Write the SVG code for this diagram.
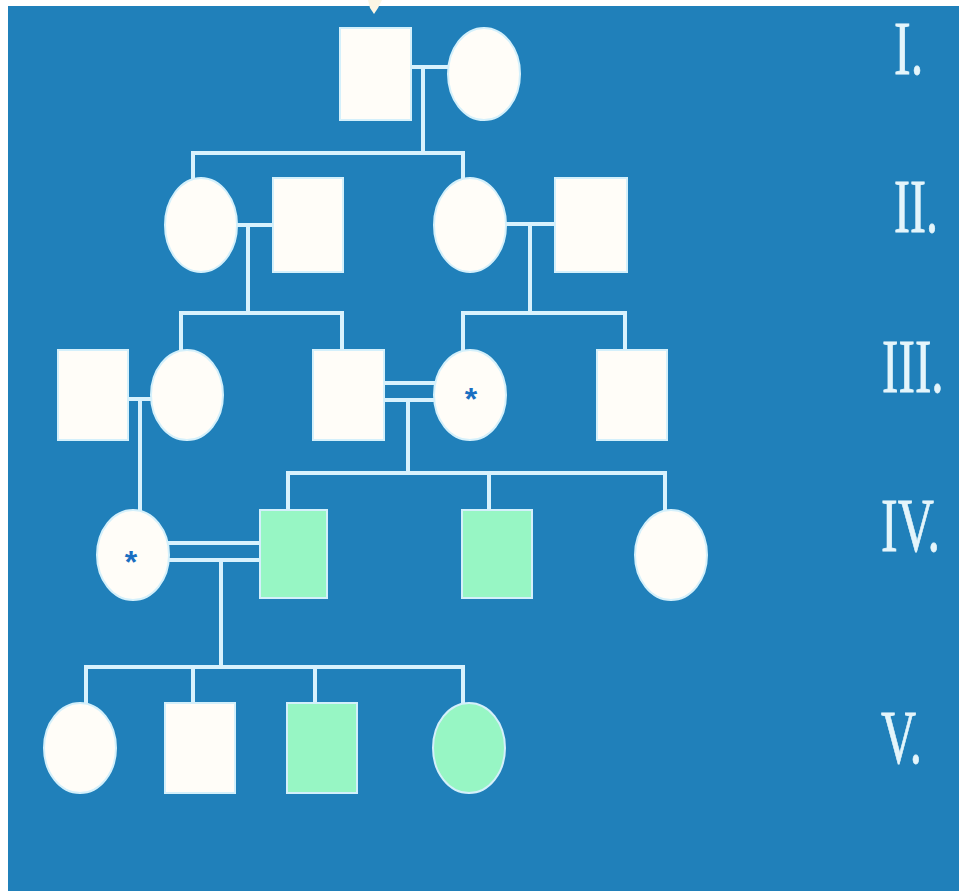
<svg xmlns="http://www.w3.org/2000/svg" width="959" height="891" viewBox="0 0 959 891">
<style>
.bg{fill:#2080ba}
.m{fill:#fffdf8;stroke:#d4f0fb;stroke-width:2}
.a{fill:#97f6c4;stroke:#d4f0fb;stroke-width:2}
.ln{fill:none;stroke:#d8f2fd;stroke-width:4;stroke-linecap:square}
.gen{font-family:"Liberation Serif",serif;font-size:76px;fill:#e4f5fb;stroke:#e4f5fb;stroke-width:0.8}
.st{font-family:"Liberation Sans",sans-serif;font-size:32px;font-weight:bold;fill:#1a6fc2}
</style>
<rect width="959" height="891" fill="#ffffff"/>
<rect class="bg" x="8" y="6" width="951" height="885"/>
<path d="M368,0 L382,0 L378,8 L374,14 L370,8 Z" fill="#fbf6e4"/>
<g id="connectors">
<path class="ln" d="M411,67 H448 M423,67 V153 M193,153 H463 M193,153 V177 M463,153 V177"/>
<path class="ln" d="M237,225 H272 M248,225 V313 M181,313 H342 M181,313 V350 M342,313 V350"/>
<path class="ln" d="M506,224 H555 M530,224 V313 M463,313 H625 M463,313 V350 M625,313 V350"/>
<path class="ln" d="M128,399 H152 M140,399 V509"/>
<path class="ln" d="M384,383 H435 M384,400 H435 M408,400 V473 M288,473 H665 M288,473 V510 M489,473 V510 M665,473 V510"/>
<path class="ln" d="M169,543 H260 M169,560 H260 M221,560 V667 M86,667 H463 M86,667 V703 M193,667 V703 M315,667 V703 M463,667 V703"/>
</g>
<g id="I-1"><rect class="m" x="340" y="28" width="71" height="92"/></g>
<g id="I-2"><ellipse class="m" cx="484" cy="74" rx="36" ry="46"/></g>
<g id="II-1"><ellipse class="m" cx="201" cy="225" rx="36" ry="47"/></g>
<g id="II-2"><rect class="m" x="273" y="178" width="70" height="94"/></g>
<g id="II-3"><ellipse class="m" cx="470" cy="225" rx="36" ry="47"/></g>
<g id="II-4"><rect class="m" x="555" y="178" width="72" height="94"/></g>
<g id="III-1"><rect class="m" x="58" y="350" width="70" height="90"/></g>
<g id="III-2"><ellipse class="m" cx="187" cy="395" rx="36" ry="45"/></g>
<g id="III-3"><rect class="m" x="313" y="350" width="71" height="90"/></g>
<g id="III-4"><ellipse class="m" cx="470" cy="395" rx="36" ry="45"/><text class="st" x="471" y="410" text-anchor="middle">*</text></g>
<g id="III-5"><rect class="m" x="597" y="350" width="70" height="90"/></g>
<g id="IV-1"><ellipse class="m" cx="133" cy="555" rx="36" ry="45"/><text class="st" x="131" y="573" text-anchor="middle">*</text></g>
<g id="IV-2"><rect class="a" x="260" y="510" width="67" height="88"/></g>
<g id="IV-3"><rect class="a" x="462" y="510" width="70" height="88"/></g>
<g id="IV-4"><ellipse class="m" cx="671" cy="555" rx="36" ry="45"/></g>
<g id="V-1"><ellipse class="m" cx="80" cy="748" rx="36" ry="45"/></g>
<g id="V-2"><rect class="m" x="165" y="703" width="70" height="90"/></g>
<g id="V-3"><rect class="a" x="287" y="703" width="70" height="90"/></g>
<g id="V-4"><ellipse class="a" cx="469" cy="748" rx="36" ry="45"/></g>
<g id="generations">
<text class="gen" transform="translate(894,74) scale(0.66,1)">I.</text>
<text class="gen" transform="translate(894,232) scale(0.63,1)">II.</text>
<text class="gen" transform="translate(882,392) scale(0.65,1)">III.</text>
<text class="gen" transform="translate(881,551) scale(0.66,1)">IV.</text>
<text class="gen" transform="translate(881,763) scale(0.64,1)">V.</text>
</g>
</svg>
